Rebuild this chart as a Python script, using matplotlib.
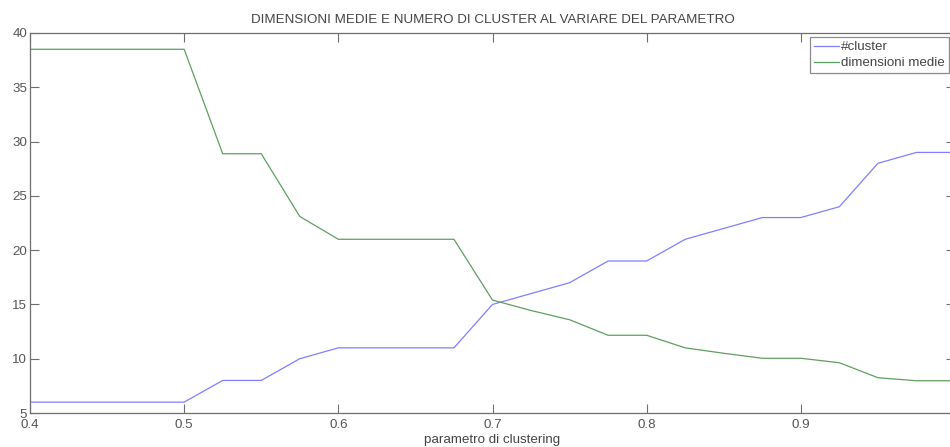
import matplotlib
matplotlib.use("Agg")
import matplotlib.pyplot as plt

# clustering parameter sweep
parametro = [0.4, 0.425, 0.45, 0.475, 0.5, 0.525, 0.55, 0.575, 0.6, 0.625,
             0.65, 0.675, 0.7, 0.725, 0.75, 0.775, 0.8, 0.825, 0.85, 0.875,
             0.9, 0.925, 0.95, 0.975, 1.0]
n_cluster = [6, 6, 6, 6, 6, 8, 8, 10, 11, 11,
             11, 11, 15, 16, 17, 19, 19, 21, 22, 23,
             23, 24, 28, 29, 29]
dim_medie = [38.5, 38.5, 38.5, 38.5, 38.5, 28.88, 28.88, 23.1, 21.0, 21.0,
             21.0, 21.0, 15.4, 14.44, 13.59, 12.16, 12.16, 11.0, 10.5, 10.04,
             10.04, 9.63, 8.25, 7.97, 7.97]

x_ticks = [0.4, 0.5, 0.6, 0.7, 0.8, 0.9, 1.0]
# the last label falls past the right edge, so leave it blank
x_labels = ['0.4', '0.5', '0.6', '0.7', '0.8', '0.9', '']
y_ticks = [5, 10, 15, 20, 25, 30, 35, 40]

W, H = 950, 447
FS = 9.6
plt.rcParams['font.family'] = ['Liberation Sans', 'DejaVu Sans']
fig = plt.figure(figsize=(W / 100, H / 100), dpi=100)
# axes run a little past the right edge of the figure
ax = fig.add_axes([30 / W, 1 - 413 / H, 925 / W, 380 / H])

ax.plot(parametro, n_cluster, color='#7f7fff', lw=0.9, label='#cluster')
ax.plot(parametro, dim_medie, color='#5f9f5f', lw=0.9, label='dimensioni medie')

ax.set_xlim(0.4, 1.0)
ax.set_ylim(5, 40)
ax.set_xticks(x_ticks)
ax.set_xticklabels(x_labels)
ax.set_yticks(y_ticks)

gray = '#6e6e6e'
for sp in ax.spines.values():
    sp.set_color(gray)
    sp.set_linewidth(0.9)
ax.tick_params(direction='in', length=6.5, width=0.8, color=gray,
               labelcolor='#555555', labelsize=FS, top=True, right=True)
ax.tick_params(axis='x', pad=4.2)
ax.tick_params(axis='y', pad=2)

ax.set_title('DIMENSIONI MEDIE E NUMERO DI CLUSTER AL VARIARE DEL PARAMETRO',
             fontsize=FS, color='#444444', pad=7)
ax.set_xlabel('parametro di clustering', fontsize=FS, color='#444444', labelpad=2.2)

leg = ax.legend(loc='upper left', bbox_to_anchor=(810 / W, 1 - 37 / H),
                bbox_transform=fig.transFigure, fontsize=FS, frameon=True,
                fancybox=False, handlelength=1.9, handletextpad=0.15,
                borderpad=0.3, labelspacing=0.28, borderaxespad=0)
leg.get_frame().set_edgecolor(gray)
leg.get_frame().set_linewidth(0.9)
for t in leg.get_texts():
    t.set_color('#444444')

fig.savefig('out.png', dpi=100)
